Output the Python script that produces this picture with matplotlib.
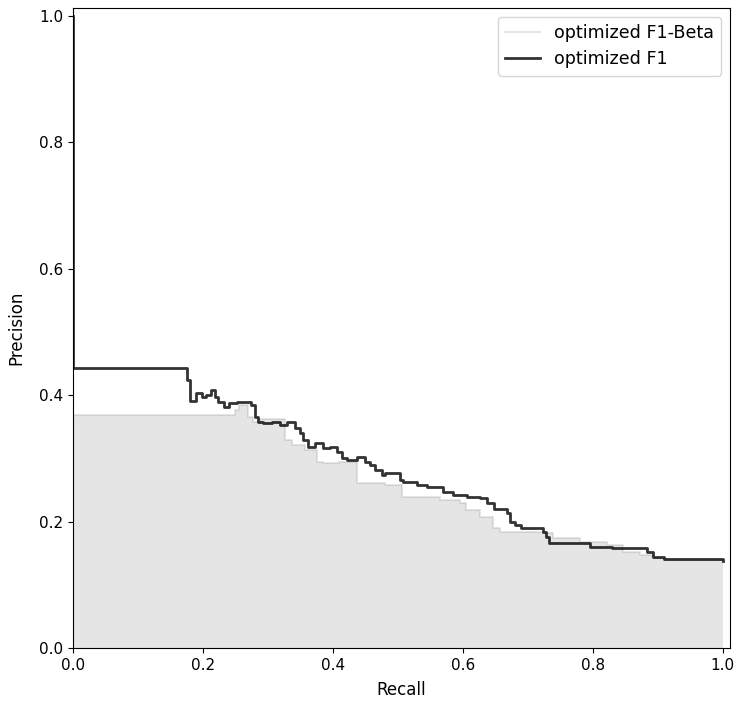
import matplotlib
matplotlib.use("Agg")
import matplotlib.pyplot as plt

# Precision-recall curve for the F1-Beta optimized model
recall_beta = [0.0, 0.249, 0.255, 0.269, 0.277, 0.288, 0.326, 0.337, 0.357, 0.375,
               0.385, 0.410, 0.437, 0.480, 0.506, 0.565, 0.595, 0.605, 0.626, 0.646,
               0.657, 0.723, 0.738, 0.780, 0.822, 0.846, 0.872, 0.892, 0.910, 1.0]
precision_beta = [0.369, 0.377, 0.385, 0.366, 0.358, 0.362, 0.329, 0.321, 0.313, 0.294,
                  0.292, 0.294, 0.261, 0.258, 0.239, 0.234, 0.229, 0.218, 0.207, 0.190,
                  0.184, 0.182, 0.174, 0.168, 0.163, 0.152, 0.147, 0.142, 0.140, 0.138]

# Precision-recall curve for the F1 optimized model
recall_f1 = [0.0, 0.0, 0.175, 0.180, 0.190, 0.198, 0.205, 0.212, 0.218, 0.223,
             0.232, 0.240, 0.252, 0.274, 0.280, 0.285, 0.292, 0.306, 0.318, 0.330,
             0.341, 0.349, 0.354, 0.362, 0.372, 0.385, 0.396, 0.406, 0.414, 0.422,
             0.437, 0.449, 0.457, 0.465, 0.475, 0.480, 0.503, 0.508, 0.529, 0.545,
             0.569, 0.585, 0.606, 0.626, 0.637, 0.648, 0.668, 0.673, 0.680, 0.690,
             0.723, 0.728, 0.733, 0.795, 0.830, 0.883, 0.893, 0.910, 1.0]
precision_f1 = [1.0, 0.443, 0.424, 0.390, 0.403, 0.397, 0.400, 0.408, 0.397, 0.389,
                0.381, 0.387, 0.389, 0.384, 0.366, 0.358, 0.356, 0.358, 0.353, 0.358,
                0.348, 0.340, 0.329, 0.318, 0.324, 0.316, 0.318, 0.310, 0.300, 0.297,
                0.302, 0.294, 0.289, 0.282, 0.274, 0.277, 0.266, 0.263, 0.258, 0.255,
                0.247, 0.242, 0.239, 0.237, 0.229, 0.220, 0.213, 0.200, 0.195, 0.190,
                0.184, 0.176, 0.166, 0.160, 0.158, 0.152, 0.144, 0.141, 0.138]

fig = plt.figure(figsize=(7.38, 7.06), dpi=100)
ax = fig.add_axes([73 / 738, 1 - 648 / 706, 657 / 738, 640 / 706])

ax.step(recall_beta, precision_beta, where="post", color="gray", alpha=0.2,
        linewidth=1.5, label="optimized F1-Beta")
ax.fill_between(recall_beta, precision_beta, step="post", color="gray", alpha=0.2,
                linewidth=0)
ax.step(recall_f1, precision_f1, where="post", color="k", alpha=0.8,
        linewidth=2, label="optimized F1")

ax.set_xlim(0.0, 1.011)
ax.set_ylim(0.0, 1.0125)
ax.set_xlabel("Recall", fontsize=12, labelpad=6)
ax.set_ylabel("Precision", fontsize=12, labelpad=10)
ax.tick_params(labelsize=11)
ax.legend(loc="upper right", fontsize=12.6)

fig.savefig("out.png", dpi=100)
